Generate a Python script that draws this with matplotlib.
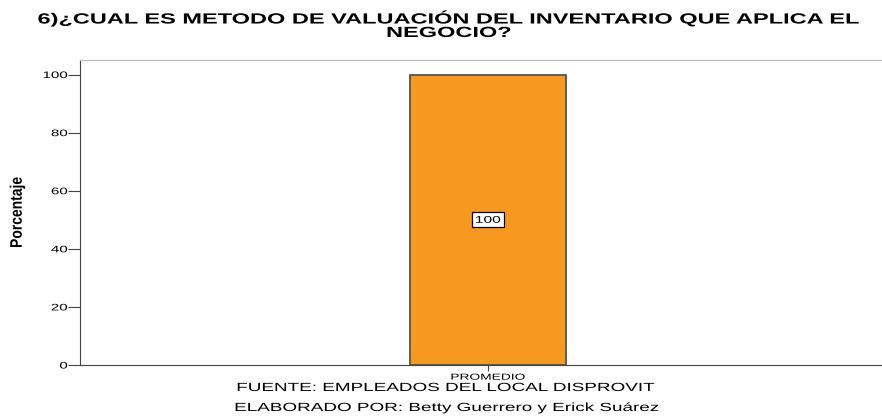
import numpy as np
import matplotlib.pyplot as plt
import matplotlib.patheffects as pe
from matplotlib.transforms import Affine2D

categorias = ["PROMEDIO"]
porcentajes = [100]

titulo = "6)¿CUAL ES METODO DE VALUACIÓN DEL INVENTARIO QUE APLICA EL\nNEGOCIO?"
fuente = "FUENTE: EMPLEADOS DEL LOCAL DISPROVIT"
elaborado = "ELABORADO POR: Betty Guerrero y Erick Suárez"

plt.rcParams['font.family'] = ['Liberation Sans', 'DejaVu Sans']

SX = 1.6  # el grafico original esta estirado a lo ancho


class Estirar(pe.AbstractPathEffect):
	# estira el texto en horizontal alrededor de un punto de anclaje
	def __init__(self, sx, anchor='center'):
		super().__init__()
		self.sx = sx
		self.anchor = anchor

	def draw_path(self, renderer, gc, tpath, affine, rgbFace=None):
		ext = tpath.get_extents(affine)
		if self.anchor == 'right':
			x0 = ext.x1
		elif self.anchor == 'left':
			x0 = ext.x0
		else:
			x0 = (ext.x0 + ext.x1) / 2
		t = affine + Affine2D().translate(-x0, 0).scale(self.sx, 1).translate(x0, 0)
		renderer.draw_path(gc, tpath, t, rgbFace)


fig = plt.figure(figsize=(8.82, 4.16), dpi=100)
ax = fig.add_axes([80/882, 51/416, 802/882, 305/416])

x = np.arange(len(categorias))
ancho = 0.4
barras = ax.bar(x, porcentajes, ancho, color="#F7981F", edgecolor="#555555", linewidth=1.3)

# la barra no queda centrada en el eje
W = 802 * ancho / 156
ax.set_xlim(-0.5087 * W, 0.4913 * W)
ax.set_ylim(0, 105)

for b, v in zip(barras, porcentajes):
	ax.text(b.get_x() + b.get_width()/2, v/2, "  " + str(v) + "  ", ha='center', va='center',
			fontsize=7, path_effects=[Estirar(SX)],
			bbox=dict(boxstyle='square,pad=0.25', fc='white', ec='black', lw=0.9))

ax.set_xticks(x)
ax.set_xticklabels(categorias, fontsize=6.2)
ax.set_yticks([0, 20, 40, 60, 80, 100])
ax.tick_params(axis='y', labelsize=6.8, length=8.5, width=0.8, pad=0.5, colors='#444444')
ax.tick_params(axis='x', length=4, width=0.8, pad=1.5, colors='#444444')
for lbl in ax.get_yticklabels():
	lbl.set_color('black')
	lbl.set_path_effects([Estirar(SX, 'right')])
for lbl in ax.get_xticklabels():
	lbl.set_color('black')
	lbl.set_path_effects([Estirar(SX)])

ax.spines['right'].set_visible(False)
ax.spines['top'].set_color('#BBBBBB')
ax.spines['left'].set_color('#444444')
ax.spines['bottom'].set_color('#444444')

ax.set_ylabel("Porcentaje", fontsize=10, fontweight='bold', path_effects=[Estirar(1.2)])
ax.yaxis.set_label_coords(-56/802, 0.5)

fig.text(449/882, 1 - 25/416, titulo, ha='center', va='center', fontsize=10.6,
		 fontweight='bold', linespacing=0.95, path_effects=[Estirar(SX)])
fig.text(445/882, 1 - 388/416, fuente, ha='center', va='center', fontsize=8.5,
		 path_effects=[Estirar(SX)])
fig.text(446/882, 1 - 408/416, elaborado, ha='center', va='center', fontsize=8.5,
		 path_effects=[Estirar(SX)])

fig.savefig("out.png", dpi=100)
